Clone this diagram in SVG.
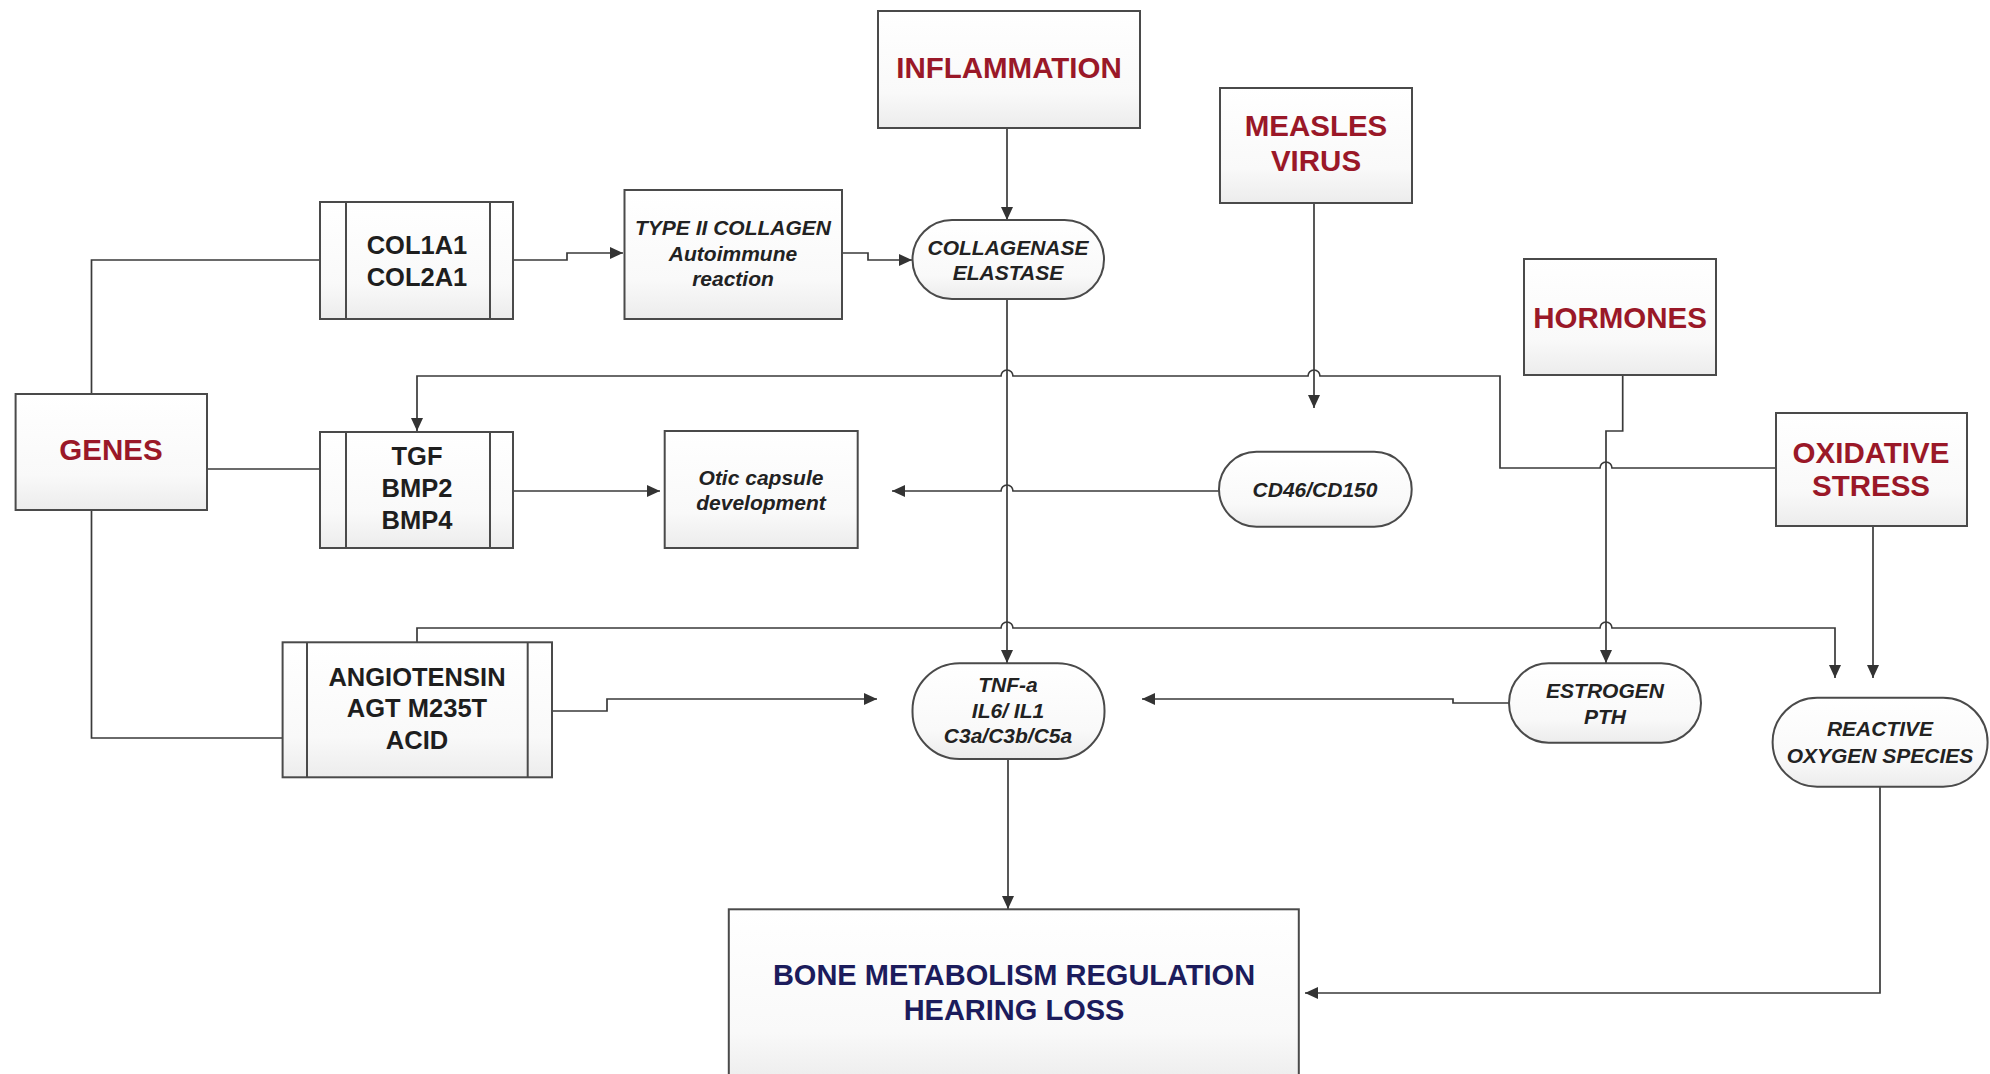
<svg xmlns="http://www.w3.org/2000/svg" width="1990" height="1074" viewBox="0 0 1990 1074">
<defs>
<linearGradient id="g" x1="0" y1="0" x2="0" y2="1">
<stop offset="0" stop-color="#ffffff"/>
<stop offset="0.7" stop-color="#f9f9f9"/>
<stop offset="1" stop-color="#ececec"/>
</linearGradient>
<marker id="arr" markerUnits="userSpaceOnUse" markerWidth="14" markerHeight="12" refX="13" refY="6" orient="auto">
<path d="M0,0 L13,6 L0,12 z" fill="#333"/>
</marker>
<style>
.box{fill:url(#g);stroke:#4a4a4a;stroke-width:2}
.in{stroke:#4a4a4a;stroke-width:2}
.conn{fill:none;stroke:#3a3a3a;stroke-width:1.7}
.arw{marker-end:url(#arr)}
text{font-family:"Liberation Sans",Arial,sans-serif;text-anchor:middle;dominant-baseline:central}
.red{font-size:29.5px;font-weight:bold;fill:#9a1828}
.blk{font-size:25.5px;font-weight:bold;fill:#1e1e1e}
.it{font-size:21px;font-weight:bold;font-style:italic;fill:#222}
.navy{font-size:29px;font-weight:bold;fill:#1c1c5c}
</style>
</defs>
<rect width="1990" height="1074" fill="#ffffff"/>

<g id="connectors">
<path class="conn" d="M91.5,394 V260 H320"/>
<path class="conn arw" d="M513,260 H567 V253 H623"/>
<path class="conn arw" d="M842,253 H868 V260 H912"/>
<path class="conn arw" d="M1007,128 V220"/>
<path class="conn arw" d="M1007,299 V663"/>
<path class="conn" d="M207,469 H320"/>
<path class="conn arw" d="M513,491 H660"/>
<path class="conn arw" d="M1776,468 H1612 A6,6 0 0 0 1600,468 H1500 V376 H1320 A6,6 0 0 0 1308,376 H1013 A6,6 0 0 0 1001,376 H417 V431"/>
<path class="conn arw" d="M1314,203 V408"/>
<path class="conn arw" d="M1219,491 H1013 A6,6 0 0 0 1001,491 H892"/>
<path class="conn" d="M91.5,510 V738 H282.6"/>
<path class="conn arw" d="M552,711 H607 V699 H877"/>
<path class="conn arw" d="M417,642 V628 H1001 A6,6 0 0 1 1013,628 H1600 A6,6 0 0 1 1612,628 H1835 V678"/>
<path class="conn arw" d="M1622.7,375 V431 H1606 V663"/>
<path class="conn arw" d="M1509,703 H1453 V699 H1142"/>
<path class="conn arw" d="M1873,526 V678"/>
<path class="conn arw" d="M1008,759 V909"/>
<path class="conn arw" d="M1880,787 V993 H1305"/>
</g>

<g id="inflammation">
<rect class="box" x="878" y="11" width="262" height="117"/>
<text class="red" x="1009" y="67">INFLAMMATION</text>
</g>

<g id="measles">
<rect class="box" x="1220" y="88" width="192" height="115"/>
<text class="red" x="1316" y="125">MEASLES</text>
<text class="red" x="1316" y="160">VIRUS</text>
</g>

<g id="hormones">
<rect class="box" x="1524" y="259" width="192" height="116"/>
<text class="red" x="1620" y="317">HORMONES</text>
</g>

<g id="oxidative">
<rect class="box" x="1776" y="413" width="191" height="113"/>
<text class="red" x="1871" y="452">OXIDATIVE</text>
<text class="red" x="1871" y="485">STRESS</text>
</g>

<g id="genes">
<rect class="box" x="15.6" y="394" width="191.4" height="116"/>
<text class="red" x="111" y="449">GENES</text>
</g>

<g id="col">
<rect class="box" x="320" y="202" width="193" height="117"/>
<line class="in" x1="346" y1="202" x2="346" y2="319"/>
<line class="in" x1="490" y1="202" x2="490" y2="319"/>
<text class="blk" x="417" y="245">COL1A1</text>
<text class="blk" x="417" y="277">COL2A1</text>
</g>

<g id="tgf">
<rect class="box" x="320" y="432" width="193" height="116"/>
<line class="in" x1="346" y1="432" x2="346" y2="548"/>
<line class="in" x1="490" y1="432" x2="490" y2="548"/>
<text class="blk" x="417" y="456">TGF</text>
<text class="blk" x="417" y="488">BMP2</text>
<text class="blk" x="417" y="520">BMP4</text>
</g>

<g id="angio">
<rect class="box" x="282.6" y="642.3" width="269.4" height="135"/>
<line class="in" x1="307" y1="642.3" x2="307" y2="777.3"/>
<line class="in" x1="527.7" y1="642.3" x2="527.7" y2="777.3"/>
<text class="blk" x="417" y="677">ANGIOTENSIN</text>
<text class="blk" x="417" y="708">AGT M235T</text>
<text class="blk" x="417" y="740">ACID</text>
</g>

<g id="type2">
<rect class="box" x="624.5" y="190" width="217.5" height="129"/>
<text class="it" x="733" y="227">TYPE II COLLAGEN</text>
<text class="it" x="733" y="253">Autoimmune</text>
<text class="it" x="733" y="278">reaction</text>
</g>

<g id="otic">
<rect class="box" x="664.7" y="431" width="193" height="117"/>
<text class="it" x="761" y="477">Otic capsule</text>
<text class="it" x="761" y="502">development</text>
</g>

<g id="collagenase">
<rect class="box" x="912.5" y="220" width="191.5" height="79" rx="39.5" ry="39.5"/>
<text class="it" x="1008" y="247">COLLAGENASE</text>
<text class="it" x="1008" y="272">ELASTASE</text>
</g>

<g id="cd46">
<rect class="box" x="1219" y="451.7" width="192.7" height="75" rx="37.5" ry="37.5"/>
<text class="it" x="1315" y="489">CD46/CD150</text>
</g>

<g id="tnf">
<rect class="box" x="912.5" y="663.3" width="192" height="95.7" rx="47" ry="47"/>
<text class="it" x="1008" y="684">TNF-a</text>
<text class="it" x="1008" y="710">IL6/ IL1</text>
<text class="it" x="1008" y="735">C3a/C3b/C5a</text>
</g>

<g id="estrogen">
<rect class="box" x="1509" y="663.3" width="192" height="79.4" rx="39.7" ry="39.7"/>
<text class="it" x="1605" y="690">ESTROGEN</text>
<text class="it" x="1605" y="716">PTH</text>
</g>

<g id="ros">
<rect class="box" x="1772.6" y="697.7" width="215" height="89" rx="44.5" ry="44.5"/>
<text class="it" x="1880" y="728">REACTIVE</text>
<text class="it" x="1880" y="755">OXYGEN SPECIES</text>
</g>

<g id="bone">
<rect class="box" x="728.8" y="909.3" width="570" height="175"/>
<text class="navy" x="1014" y="975">BONE METABOLISM REGULATION</text>
<text class="navy" x="1014" y="1010">HEARING LOSS</text>
</g>
</svg>
